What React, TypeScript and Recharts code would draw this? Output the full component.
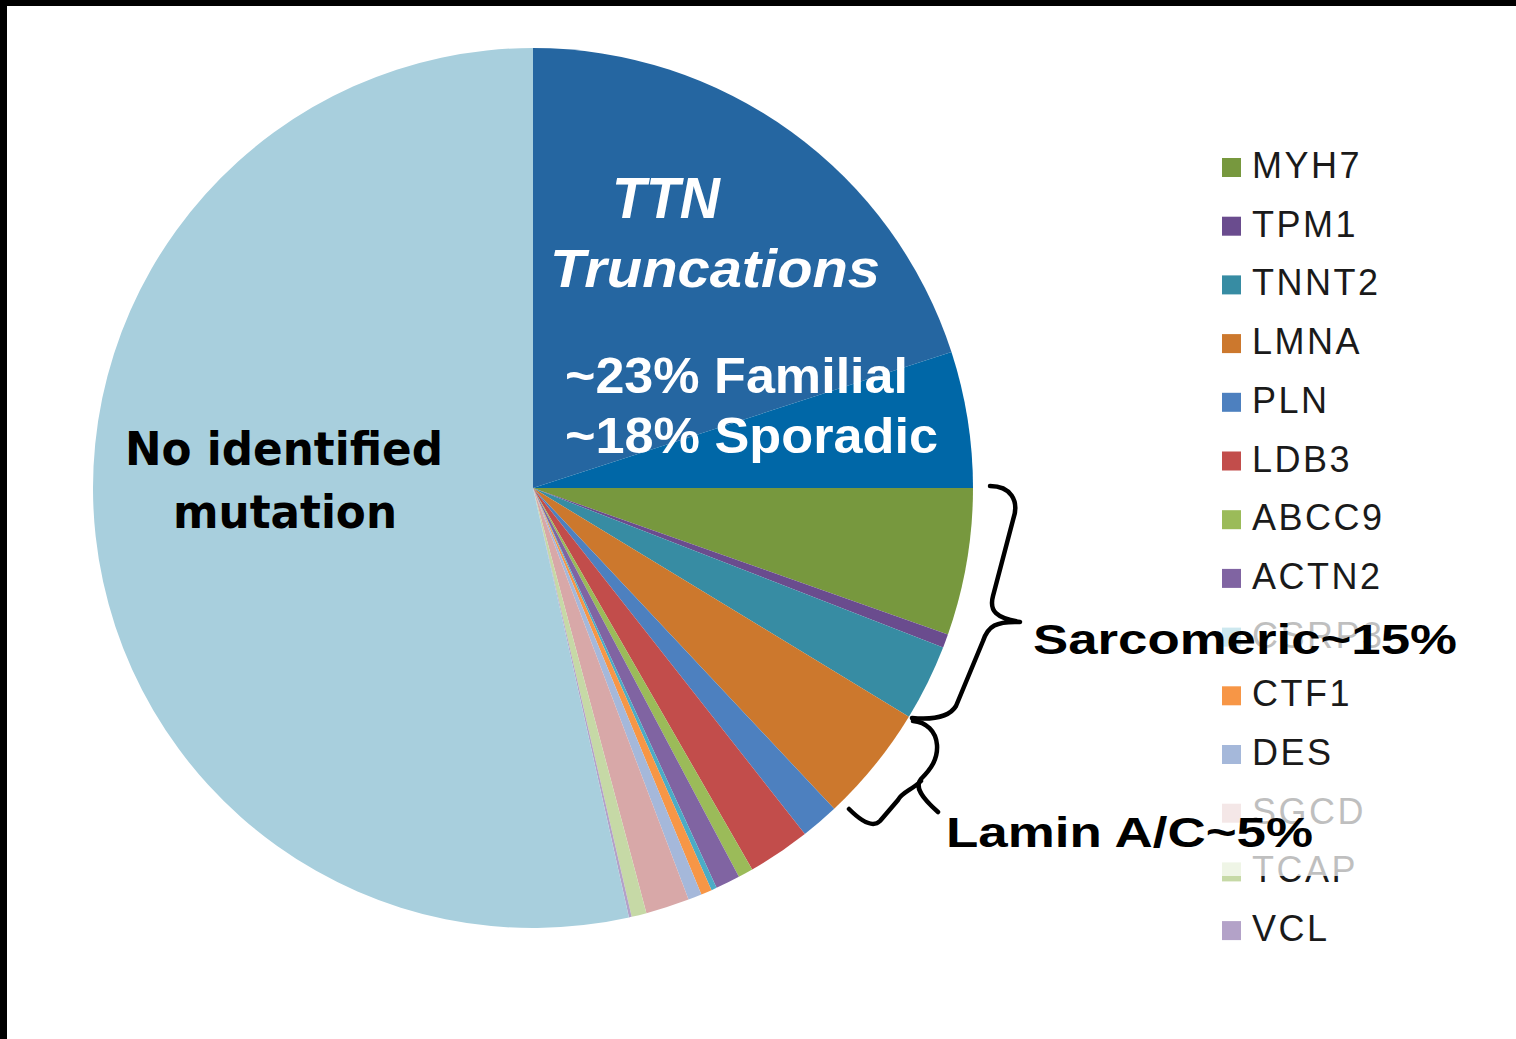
import React from 'react';
import { PieChart, Pie, Cell, Legend } from 'recharts';

// Slices in clockwise order starting at 12 o'clock (percent of all cases)
const sliceNames = [
  'TTN truncations (familial excess)',
  'TTN truncations',
  'MYH7', 'TPM1', 'TNNT2', 'LMNA', 'PLN', 'LDB3', 'ABCC9', 'ACTN2',
  'CSRP3', 'CTF1', 'DES', 'SGCD', 'TCAP', 'VCL',
  'No identified mutation',
];
const sliceValues = [
  20, 5,
  5.4, 0.5, 2.8, 4.3, 1.4, 2.3, 0.55, 0.9,
  0.2, 0.4, 0.5, 1.6, 0.55, 0.1,
  53.5,
];
const sliceColors = [
  '#2566A1', '#0067A7',
  '#77983E', '#6A4C8E', '#378CA3', '#CC782D', '#4D80BF', '#C24D4B', '#9BBB59', '#8064A2',
  '#4BACC6', '#F79646', '#A5B8DA', '#D8A8A8', '#C6D9A6', '#B3A2C8',
  '#A8CFDD',
];

// Legend entries (genes only)
const legendNames = ['MYH7', 'TPM1', 'TNNT2', 'LMNA', 'PLN', 'LDB3', 'ABCC9', 'ACTN2', 'CSRP3', 'CTF1', 'DES', 'SGCD', 'TCAP', 'VCL'];

const ttnLines = ['TTN', 'Truncations'];
const ttnStats = ['~23% Familial', '~18% Sporadic'];
const noMutationLines = ['No identified', 'mutation'];
const groupLabels = ['Sarcomeric~15%', 'Lamin A/C~5%'];

const data = sliceNames.map((name, i) => ({ name, value: sliceValues[i], fill: sliceColors[i] }));

const legendColor = (name: string) => sliceColors[sliceNames.indexOf(name)];

const renderLegend = () => (
  <svg width={300} height={820} style={{ display: 'block' }}>
    {legendNames.map((n, i) => (
      <g key={n}>
        <rect x={22} y={18 + i * 58.7} width={19} height={19} fill={legendColor(n)} />
        <text
          x={52}
          y={38 + i * 58.7}
          fontFamily='"Liberation Sans", Arial, sans-serif'
          fontSize={36}
          letterSpacing={2.5}
          fill="#1a1a1a"
        >
          {n}
        </text>
      </g>
    ))}
  </svg>
);

export default function App() {
  const boldSans = '"Liberation Sans", Arial, sans-serif';
  const dejavu = '"DejaVu Sans", Verdana, sans-serif';
  return (
    <div style={{ position: 'absolute', left: 0, top: 0, width: 1516, height: 1039, background: '#fff', overflow: 'hidden' }}>
      <PieChart width={1516} height={1039} margin={{ top: 0, right: 0, bottom: 0, left: 0 }}>
        <Pie
          data={data}
          dataKey="value"
          nameKey="name"
          cx={533}
          cy={488}
          outerRadius={440}
          startAngle={90}
          endAngle={-270}
          stroke="none"
          isAnimationActive={false}
          legendType="none"
        >
          {data.map((d) => (
            <Cell key={d.name} fill={d.fill} stroke="none" />
          ))}
        </Pie>
        <Legend
          content={renderLegend}
          wrapperStyle={{ position: 'absolute', left: 1200, top: 140, width: 300, height: 820, margin: 0 }}
        />
      </PieChart>
      <svg
        width={1516}
        height={1039}
        style={{ position: 'absolute', left: 0, top: 0, pointerEvents: 'none' }}
      >
        {/* frame */}
        <rect x={0} y={0} width={1516} height={6} fill="#000" />
        <rect x={0} y={0} width={7} height={1039} fill="#000" />

        {/* TTN labels */}
        <text x={612} y={218} fontFamily={boldSans} fontWeight="bold" fontStyle="italic" fontSize={58} fill="#fff" textLength={108} lengthAdjust="spacingAndGlyphs">{ttnLines[0]}</text>
        <text x={550} y={287} fontFamily={boldSans} fontWeight="bold" fontStyle="italic" fontSize={54} fill="#fff" textLength={330} lengthAdjust="spacingAndGlyphs">{ttnLines[1]}</text>
        <text x={565} y={393} fontFamily={boldSans} fontWeight="bold" fontSize={50} fill="#fff" textLength={343} lengthAdjust="spacingAndGlyphs">{ttnStats[0]}</text>
        <text x={565} y={453} fontFamily={boldSans} fontWeight="bold" fontSize={50} fill="#fff" textLength={373} lengthAdjust="spacingAndGlyphs">{ttnStats[1]}</text>

        {/* No identified mutation */}
        <text x={125} y={465} fontFamily={dejavu} fontWeight="bold" fontSize={47} fill="#000" textLength={318} lengthAdjust="spacingAndGlyphs">{noMutationLines[0]}</text>
        <text x={173} y={528} fontFamily={dejavu} fontWeight="bold" fontSize={47} fill="#000" textLength={224} lengthAdjust="spacingAndGlyphs">{noMutationLines[1]}</text>

        {/* translucent label boxes that fade legend entries */}
        <rect x={1025} y={612} width={445} height={56} fill="#fff" opacity={0.72} />
        <rect x={940} y={790} width={435} height={86} fill="#fff" opacity={0.72} />

        {/* braces */}
        <path
          d="M 990 486 C 1010 486 1020 500 1013 520 L 993 596 C 989 611 996 618 1020 622 C 996 621 988 626 983 641 L 956 706 C 950 716 934 720 912 718"
          fill="none" stroke="#000" strokeWidth={4.5} strokeLinecap="round" strokeLinejoin="round"
        />
        <path
          d="M 913 721 C 926 722 936 731 937 745 C 938 759 931 769 921 779 C 914 787 922 798 938 812 M 921 781 C 912 790 902 792 898 800 L 880 821 C 872 829 860 820 849 809"
          fill="none" stroke="#000" strokeWidth={4.5} strokeLinecap="round" strokeLinejoin="round"
        />

        {/* group labels */}
        <text x={1033} y={654} fontFamily={boldSans} fontWeight="bold" fontSize={42} fill="#000" textLength={424} lengthAdjust="spacingAndGlyphs">{groupLabels[0]}</text>
        <text x={946} y={847} fontFamily={boldSans} fontWeight="bold" fontSize={42} fill="#000" textLength={367} lengthAdjust="spacingAndGlyphs">{groupLabels[1]}</text>
      </svg>
    </div>
  );
}
